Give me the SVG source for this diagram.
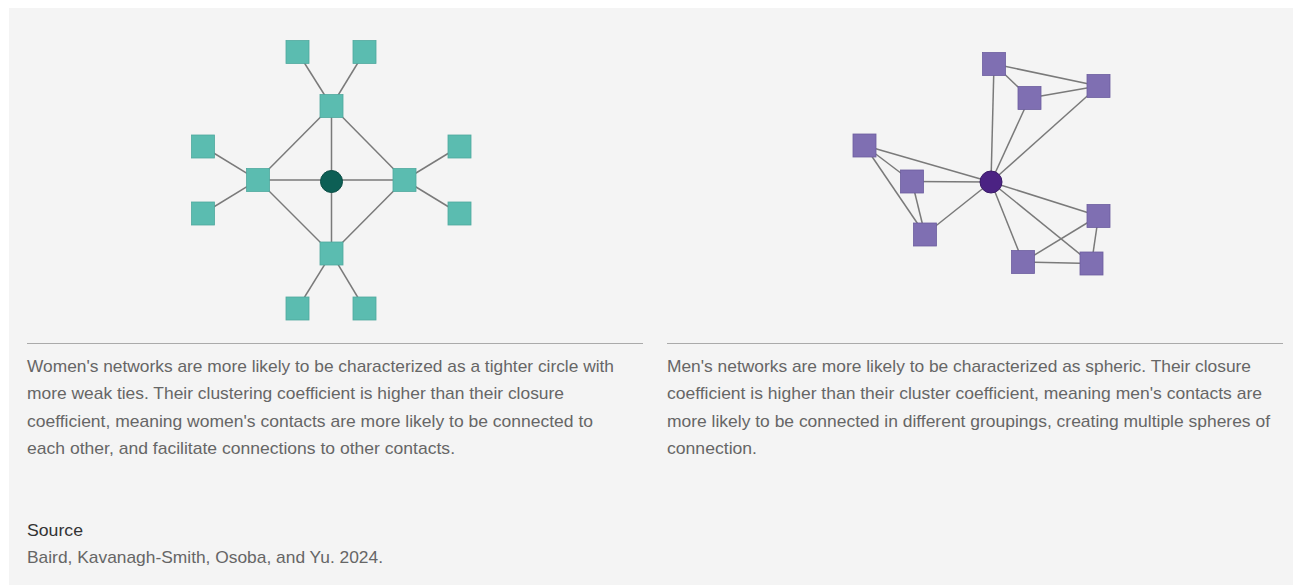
<svg xmlns="http://www.w3.org/2000/svg" width="1293" height="588" viewBox="0 0 1293 588">
<style>
.edge{stroke:#7a7a7a;stroke-width:1.5;fill:none}
.tq{fill:#5bbcb0;stroke:#4fa99e;stroke-width:0.8}
.pq{fill:#7f6fb2;stroke:#6d5e9e;stroke-width:0.8}
.body{font-family:"Liberation Sans",Arial,sans-serif;font-size:17px;fill:#666}
.head{font-family:"Liberation Sans",Arial,sans-serif;font-size:17px;fill:#333}
.rule{stroke:#aaa;stroke-width:1}
</style>
<rect x="0" y="0" width="1293" height="588" fill="#ffffff"/>
<rect x="9" y="8" width="1284" height="577" fill="#f4f4f4"/>

<g id="connectors">
  <!-- women -->
  <line class="edge" x1="297.5" y1="52" x2="331.5" y2="106"/>
  <line class="edge" x1="364.5" y1="52" x2="331.5" y2="106"/>
  <line class="edge" x1="331.5" y1="106" x2="258" y2="180"/>
  <line class="edge" x1="331.5" y1="106" x2="404.5" y2="180"/>
  <line class="edge" x1="331.5" y1="106" x2="331.5" y2="253.5"/>
  <line class="edge" x1="258" y1="180" x2="404.5" y2="180"/>
  <line class="edge" x1="258" y1="180" x2="331.5" y2="253.5"/>
  <line class="edge" x1="404.5" y1="180" x2="331.5" y2="253.5"/>
  <line class="edge" x1="203" y1="146.5" x2="258" y2="180"/>
  <line class="edge" x1="203" y1="213.5" x2="258" y2="180"/>
  <line class="edge" x1="459.5" y1="146.5" x2="404.5" y2="180"/>
  <line class="edge" x1="459.5" y1="213.5" x2="404.5" y2="180"/>
  <line class="edge" x1="297.5" y1="308.5" x2="331.5" y2="253.5"/>
  <line class="edge" x1="364.5" y1="308.5" x2="331.5" y2="253.5"/>
  <!-- men -->
  <line class="edge" x1="994" y1="64" x2="991" y2="182"/>
  <line class="edge" x1="994" y1="64" x2="1029.5" y2="98"/>
  <line class="edge" x1="994" y1="64" x2="1098.5" y2="86"/>
  <line class="edge" x1="1029.5" y1="98" x2="1098.5" y2="86"/>
  <line class="edge" x1="1029.5" y1="98" x2="991" y2="182"/>
  <line class="edge" x1="1098.5" y1="86" x2="991" y2="182"/>
  <line class="edge" x1="864.5" y1="145.5" x2="991" y2="182"/>
  <line class="edge" x1="864.5" y1="145.5" x2="912" y2="181.5"/>
  <line class="edge" x1="864.5" y1="145.5" x2="925" y2="234.5"/>
  <line class="edge" x1="912" y1="181.5" x2="925" y2="234.5"/>
  <line class="edge" x1="912" y1="181.5" x2="991" y2="182"/>
  <line class="edge" x1="925" y1="234.5" x2="991" y2="182"/>
  <line class="edge" x1="991" y1="182" x2="1098.5" y2="216"/>
  <line class="edge" x1="991" y1="182" x2="1023" y2="262"/>
  <line class="edge" x1="991" y1="182" x2="1091.5" y2="263.5"/>
  <line class="edge" x1="1098.5" y1="216" x2="1023" y2="262"/>
  <line class="edge" x1="1098.5" y1="216" x2="1091.5" y2="263.5"/>
  <line class="edge" x1="1023" y1="262" x2="1091.5" y2="263.5"/>
</g>

<g id="women-center"><circle cx="331.5" cy="181.5" r="11" fill="#0d5f55" stroke="#0a4d45" stroke-width="1"/></g>
<g id="women-hub-top"><rect class="tq" x="320" y="94.5" width="23" height="23"/></g>
<g id="women-hub-left"><rect class="tq" x="246.5" y="168.5" width="23" height="23"/></g>
<g id="women-hub-right"><rect class="tq" x="393" y="168.5" width="23" height="23"/></g>
<g id="women-hub-bottom"><rect class="tq" x="320" y="242" width="23" height="23"/></g>
<g id="women-leaf-t1"><rect class="tq" x="286" y="40.5" width="23" height="23"/></g>
<g id="women-leaf-t2"><rect class="tq" x="353" y="40.5" width="23" height="23"/></g>
<g id="women-leaf-l1"><rect class="tq" x="191.5" y="135" width="23" height="23"/></g>
<g id="women-leaf-l2"><rect class="tq" x="191.5" y="202" width="23" height="23"/></g>
<g id="women-leaf-r1"><rect class="tq" x="448" y="135" width="23" height="23"/></g>
<g id="women-leaf-r2"><rect class="tq" x="448" y="202" width="23" height="23"/></g>
<g id="women-leaf-b1"><rect class="tq" x="286" y="297" width="23" height="23"/></g>
<g id="women-leaf-b2"><rect class="tq" x="353" y="297" width="23" height="23"/></g>

<g id="men-center"><circle cx="991" cy="182" r="11" fill="#4b2283" stroke="#3a1a68" stroke-width="1"/></g>
<g id="men-a"><rect class="pq" x="982.5" y="52.5" width="23" height="23"/></g>
<g id="men-b"><rect class="pq" x="1018" y="86.5" width="23" height="23"/></g>
<g id="men-c"><rect class="pq" x="1087" y="74.5" width="23" height="23"/></g>
<g id="men-d"><rect class="pq" x="853" y="134" width="23" height="23"/></g>
<g id="men-e"><rect class="pq" x="900.5" y="170" width="23" height="23"/></g>
<g id="men-f"><rect class="pq" x="913.5" y="223" width="23" height="23"/></g>
<g id="men-g"><rect class="pq" x="1087" y="204.5" width="23" height="23"/></g>
<g id="men-h"><rect class="pq" x="1011.5" y="250.5" width="23" height="23"/></g>
<g id="men-i"><rect class="pq" x="1080" y="252" width="23" height="23"/></g>

<g id="captions">
  <line class="rule" x1="27" y1="343.5" x2="643" y2="343.5"/>
  <line class="rule" x1="667" y1="343.5" x2="1283" y2="343.5"/>
  <text class="body" x="27" y="371.5" textLength="587" lengthAdjust="spacingAndGlyphs">Women's networks are more likely to be characterized as a tighter circle with</text>
  <text class="body" x="27" y="399" textLength="537" lengthAdjust="spacingAndGlyphs">more weak ties. Their clustering coefficient is higher than their closure</text>
  <text class="body" x="27" y="426.5" textLength="566" lengthAdjust="spacingAndGlyphs">coefficient, meaning women's contacts are more likely to be connected to</text>
  <text class="body" x="27" y="454" textLength="428" lengthAdjust="spacingAndGlyphs">each other, and facilitate connections to other contacts.</text>
  <text class="body" x="667" y="371.5" textLength="584" lengthAdjust="spacingAndGlyphs">Men's networks are more likely to be characterized as spheric. Their closure</text>
  <text class="body" x="667" y="399" textLength="595" lengthAdjust="spacingAndGlyphs">coefficient is higher than their cluster coefficient, meaning men's contacts are</text>
  <text class="body" x="667" y="426.5" textLength="603" lengthAdjust="spacingAndGlyphs">more likely to be connected in different groupings, creating multiple spheres of</text>
  <text class="body" x="667" y="454" textLength="90" lengthAdjust="spacingAndGlyphs">connection.</text>
  <text class="head" x="27" y="536" textLength="56" lengthAdjust="spacingAndGlyphs">Source</text>
  <text class="body" x="27" y="563" textLength="356" lengthAdjust="spacingAndGlyphs">Baird, Kavanagh-Smith, Osoba, and Yu. 2024.</text>
</g>
</svg>
